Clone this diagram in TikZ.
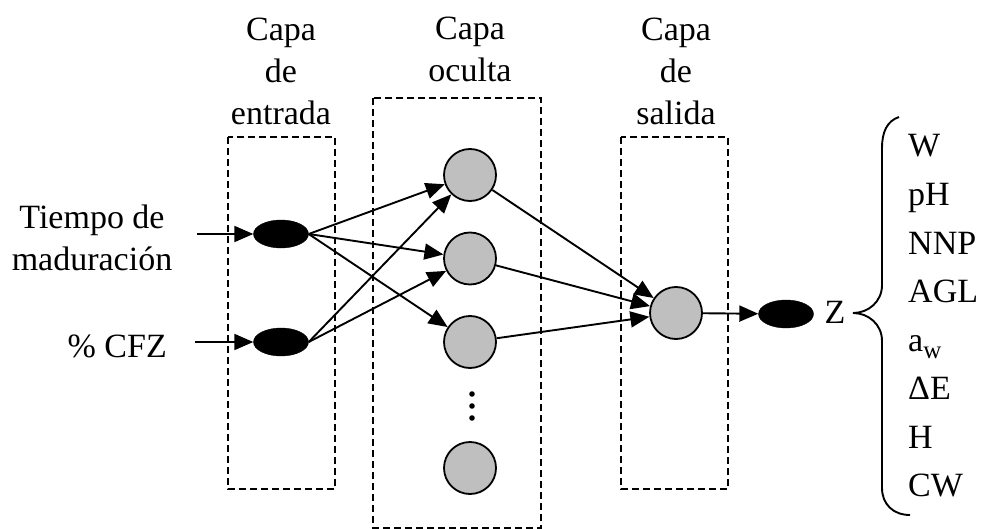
\documentclass[tikz,border=0pt]{standalone}
\usepackage{fontspec}
\setmainfont{Liberation Serif}
\usetikzlibrary{arrows.meta,shapes.geometric}

\begin{document}
\begin{tikzpicture}[x=1pt,y=-1pt,
	neuron/.style={ circle, draw, line width=1.8pt, fill=black!25, inner sep=0pt, minimum size=52pt },
	unit/.style={ ellipse, draw, fill, inner sep=0pt, minimum width=55pt, minimum height=28pt },
	layer/.style={ draw, dash pattern=on 7pt off 4pt, line width=2.2pt },
	link/.style={ line width=1.9pt, -{Triangle[length=19pt,width=16pt]} },
	lbl/.style={ font=\fontsize{34}{42}\selectfont, inner sep=0pt, align=center }
]

\useasboundingbox (0,0) rectangle (981,529);

% capas
\draw[layer] (228,137) rectangle (335,489);
\draw[layer] (373,98) rectangle (541,528);
\draw[layer] (621,137) rectangle (728,489);

\node[lbl] (capain) at (281,71) {Capa\\de\\entrada};
\node[lbl] (capahid) at (470,49.5) {Capa\\oculta};
\node[lbl] (capaout) at (676,71) {Capa\\de\\salida};

\begin{scope}
	\node[unit] at (281,234) (in1) {};
	\node[unit] at (281,342) (in2) {};
	\node[neuron] at (470,175) (h1) {};
	\node[neuron] at (470,258.5) (h2) {};
	\node[neuron] at (470,342) (h3) {};
	\node[neuron] at (470,468) (h4) {};
	\node[neuron] at (676,313) (out) {};
	\node[unit] at (786,314) (z) {};
	\foreach \y in {394,406,418}
		\fill (472,\y) circle (2.8pt);
\end{scope}

% entradas
\node[lbl] (tiempo) at (92,237.4) {Tiempo de\\maduración};
\node[lbl, anchor=base east] (cfz) at (167,357) {\% CFZ};
\coordinate (t1) at (197,234);
\coordinate (t2) at (195,342);
\draw[link] (t1) to (in1);
\draw[link] (t2) to (in2);

\draw[link] (in1.east) to (h1);
\draw[link] (in1.east) to (h2);
\draw[link] (in1.east) to (h3);
\draw[link] (in2.east) to (h1);
\draw[link] (in2.east) to (h2);
\draw[link] (h1) to (out);
\draw[link] (h2) to (out);
\draw[link] (h3) to (out);
\draw[link] (out) to (z);

% salidas
\node[lbl, anchor=base] (zlbl) at (835,323) {Z};
\draw[line width=1.9pt]
  (899,117) .. controls (887,121) and (882,132) .. (882,148)
  -- (882,285) .. controls (882,302) and (868,313) .. (853,313)
  .. controls (868,313) and (882,324) .. (882,341)
  -- (882,488) .. controls (882,504) and (893,515) .. (910,515);
\foreach \txt [count=\i from 0] in {W,pH,NNP,AGL,{a\raisebox{-0.21em}{\fontsize{25}{25}\selectfont w}},ΔE,H,CW}
	\node[lbl, anchor=base west] (var\i) at (908,{157+48.5*\i}) {\txt};

\end{tikzpicture}
\end{document}
